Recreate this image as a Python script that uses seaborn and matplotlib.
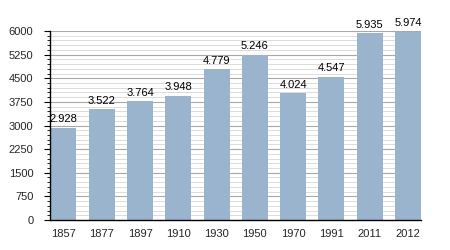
import matplotlib
matplotlib.use("Agg")
import matplotlib.pyplot as plt
import seaborn as sns
import pandas as pd
from matplotlib.ticker import MultipleLocator

years = ["1857", "1877", "1897", "1910", "1930", "1950", "1970", "1991", "2011", "2012"]
population = [2928, 3522, 3764, 3948, 4779, 5246, 4024, 4547, 5935, 5974]
labels = ["2.928", "3.522", "3.764", "3.948", "4.779", "5.246", "4.024", "4.547", "5.935", "5.974"]
yticks = [0, 750, 1500, 2250, 3000, 3750, 4500, 5250, 6000]

df = pd.DataFrame({"year": years, "pop": population})

sns.set_style("white")
plt.rcParams['font.family'] = ['Liberation Sans', 'DejaVu Sans']

fig = plt.figure(figsize=(4.5, 2.5), dpi=100)
ax = fig.add_axes([50/450, 1 - 220/250, 371/450, 189/250])

sns.barplot(data=df, x="year", y="pop", color="#9AB4CE", width=0.68,
            saturation=1, ax=ax, zorder=3, linewidth=0)

ax.set_ylim(0, 6000)
ax.set_xlim(-0.35, 9.34)
ax.set_yticks(yticks)
ax.yaxis.set_minor_locator(MultipleLocator(150))
ax.grid(which="major", axis="y", color="#a8a8a8", linewidth=0.8, zorder=0)
ax.grid(which="minor", axis="y", color="#dcdcdc", linewidth=0.7, zorder=0)
ax.set_axisbelow(True)
ax.set_xlabel("")
ax.set_ylabel("")

for s in ["top", "right"]:
    ax.spines[s].set_visible(False)
for s in ["left", "bottom"]:
    ax.spines[s].set_color("black")
    ax.spines[s].set_linewidth(1)
    ax.spines[s].set_zorder(5)

ax.tick_params(axis="y", which="major", left=True, length=4, width=0.8, labelsize=8, pad=8, color="black")
ax.tick_params(axis="y", which="minor", left=True, length=2, width=0.6, color="black")
ax.tick_params(axis="x", which="major", bottom=False, labelsize=8, pad=3)

for i, (v, t) in enumerate(zip(population, labels)):
    ax.text(i, v + 110, t, ha="center", va="bottom", fontsize=8, color="black")

fig.savefig("out.png", dpi=100)
